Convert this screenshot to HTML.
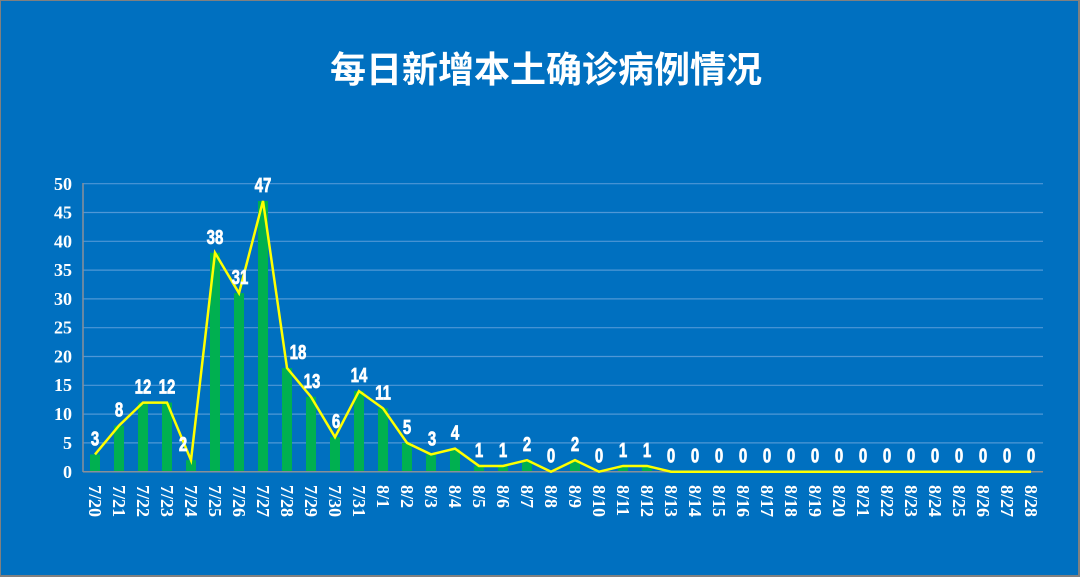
<!DOCTYPE html>
<html><head><meta charset="utf-8"><style>
html,body{margin:0;padding:0;width:1080px;height:577px;overflow:hidden;background:#0070C0}
svg{display:block}
.yl{font-family:"Liberation Serif",serif;font-weight:bold;font-size:18px;fill:#fff;text-anchor:end}
.xl{font-family:"Liberation Serif",serif;font-weight:bold;font-size:18px;fill:#fff}
.dl{font-family:"Liberation Sans",sans-serif;font-weight:bold;font-size:20px;fill:#fff;stroke:#fff;stroke-width:0.7px;text-anchor:middle}
</style></head><body>
<svg width="1080" height="577" viewBox="0 0 1080 577" xmlns="http://www.w3.org/2000/svg">
<rect x="0" y="0" width="1080" height="577" fill="#808080"/>
<rect x="1" y="1" width="1077" height="574" fill="#0070C0"/>
<text x="546" y="82" text-anchor="middle" font-family="'Liberation Sans','Noto Sans CJK SC',sans-serif" font-weight="bold" font-size="36" fill="#fff">每日新增本土确诊病例情况</text>
<g stroke="#4f97d6" stroke-width="1.2">
<line x1="83" x2="1043" y1="442.9" y2="442.9"/><line x1="83" x2="1043" y1="414.1" y2="414.1"/><line x1="83" x2="1043" y1="385.3" y2="385.3"/><line x1="83" x2="1043" y1="356.5" y2="356.5"/><line x1="83" x2="1043" y1="327.7" y2="327.7"/><line x1="83" x2="1043" y1="298.9" y2="298.9"/><line x1="83" x2="1043" y1="270.1" y2="270.1"/><line x1="83" x2="1043" y1="241.3" y2="241.3"/><line x1="83" x2="1043" y1="212.5" y2="212.5"/><line x1="83" x2="1043" y1="183.7" y2="183.7"/>
</g>
<g class="yl">
<text x="72" y="478">0</text><text x="72" y="449">5</text><text x="72" y="420">10</text><text x="72" y="391">15</text><text x="72" y="362.5">20</text><text x="72" y="333.5">25</text><text x="72" y="305">30</text><text x="72" y="276">35</text><text x="72" y="247.5">40</text><text x="72" y="218.5">45</text><text x="72" y="190">50</text>
</g>
<g fill="#00B050">
<rect x="90" y="454.42" width="10" height="17.28"/>
<rect x="114" y="425.62" width="10" height="46.08"/>
<rect x="138" y="402.58" width="10" height="69.12"/>
<rect x="162" y="402.58" width="10" height="69.12"/>
<rect x="186" y="460.18" width="10" height="11.52"/>
<rect x="210" y="252.82" width="10" height="218.88"/>
<rect x="234" y="293.14" width="10" height="178.56"/>
<rect x="258" y="200.98" width="10" height="270.72"/>
<rect x="282" y="368.02" width="10" height="103.68"/>
<rect x="306" y="396.82" width="10" height="74.88"/>
<rect x="330" y="437.14" width="10" height="34.56"/>
<rect x="354" y="391.06" width="10" height="80.64"/>
<rect x="378" y="408.34" width="10" height="63.36"/>
<rect x="402" y="442.9" width="10" height="28.8"/>
<rect x="426" y="454.42" width="10" height="17.28"/>
<rect x="450" y="448.66" width="10" height="23.04"/>
<rect x="474" y="465.94" width="10" height="5.76"/>
<rect x="498" y="465.94" width="10" height="5.76"/>
<rect x="522" y="460.18" width="10" height="11.52"/>
<rect x="570" y="460.18" width="10" height="11.52"/>
<rect x="618" y="465.94" width="10" height="5.76"/>
<rect x="642" y="465.94" width="10" height="5.76"/>
</g>
<line x1="83" y1="471.7" x2="1043" y2="471.7" stroke="#8a8f99" stroke-width="1.5"/>
<line x1="83" y1="183" x2="83" y2="472" stroke="#8a8f99" stroke-width="1.5"/>
<polyline fill="none" stroke="#FFFF00" stroke-width="2.5" stroke-linejoin="miter" points="95,454.42 119,425.62 143,402.58 167,402.58 191,460.18 215,252.82 239,293.14 263,200.98 287,368.02 311,396.82 335,437.14 359,391.06 383,408.34 407,442.9 431,454.42 455,448.66 479,465.94 503,465.94 527,460.18 551,471.7 575,460.18 599,471.7 623,465.94 647,465.94 671,471.7 695,471.7 719,471.7 743,471.7 767,471.7 791,471.7 815,471.7 839,471.7 863,471.7 887,471.7 911,471.7 935,471.7 959,471.7 983,471.7 1007,471.7 1031,471.7"/>
<g class="dl">
<text transform="translate(95,445.4) scale(0.75,1)">3</text>
<text transform="translate(119,416.6) scale(0.75,1)">8</text>
<text transform="translate(143,393.6) scale(0.75,1)">12</text>
<text transform="translate(167,393.6) scale(0.75,1)">12</text>
<text transform="translate(183,451.2) scale(0.75,1)">2</text>
<text transform="translate(215,243.8) scale(0.75,1)">38</text>
<text transform="translate(240,284.1) scale(0.75,1)">31</text>
<text transform="translate(263,192) scale(0.75,1)">47</text>
<text transform="translate(298,359) scale(0.75,1)">18</text>
<text transform="translate(312,387.8) scale(0.75,1)">13</text>
<text transform="translate(336,428.1) scale(0.75,1)">6</text>
<text transform="translate(359,382.1) scale(0.75,1)">14</text>
<text transform="translate(383,399.3) scale(0.75,1)">11</text>
<text transform="translate(407,433.9) scale(0.75,1)">5</text>
<text transform="translate(432,445.4) scale(0.75,1)">3</text>
<text transform="translate(455,439.7) scale(0.75,1)">4</text>
<text transform="translate(479,456.9) scale(0.75,1)">1</text>
<text transform="translate(503,456.9) scale(0.75,1)">1</text>
<text transform="translate(527,451.2) scale(0.75,1)">2</text>
<text transform="translate(551,462.7) scale(0.75,1)">0</text>
<text transform="translate(575,451.2) scale(0.75,1)">2</text>
<text transform="translate(599,462.7) scale(0.75,1)">0</text>
<text transform="translate(623,456.9) scale(0.75,1)">1</text>
<text transform="translate(647,456.9) scale(0.75,1)">1</text>
<text transform="translate(671,462.7) scale(0.75,1)">0</text>
<text transform="translate(695,462.7) scale(0.75,1)">0</text>
<text transform="translate(719,462.7) scale(0.75,1)">0</text>
<text transform="translate(743,462.7) scale(0.75,1)">0</text>
<text transform="translate(767,462.7) scale(0.75,1)">0</text>
<text transform="translate(791,462.7) scale(0.75,1)">0</text>
<text transform="translate(815,462.7) scale(0.75,1)">0</text>
<text transform="translate(839,462.7) scale(0.75,1)">0</text>
<text transform="translate(863,462.7) scale(0.75,1)">0</text>
<text transform="translate(887,462.7) scale(0.75,1)">0</text>
<text transform="translate(911,462.7) scale(0.75,1)">0</text>
<text transform="translate(935,462.7) scale(0.75,1)">0</text>
<text transform="translate(959,462.7) scale(0.75,1)">0</text>
<text transform="translate(983,462.7) scale(0.75,1)">0</text>
<text transform="translate(1007,462.7) scale(0.75,1)">0</text>
<text transform="translate(1031,462.7) scale(0.75,1)">0</text>
</g>
<g class="xl">
<text transform="translate(89,485) rotate(90)">7/20</text>
<text transform="translate(113,485) rotate(90)">7/21</text>
<text transform="translate(137,485) rotate(90)">7/22</text>
<text transform="translate(161,485) rotate(90)">7/23</text>
<text transform="translate(185,485) rotate(90)">7/24</text>
<text transform="translate(209,485) rotate(90)">7/25</text>
<text transform="translate(233,485) rotate(90)">7/26</text>
<text transform="translate(257,485) rotate(90)">7/27</text>
<text transform="translate(281,485) rotate(90)">7/28</text>
<text transform="translate(305,485) rotate(90)">7/29</text>
<text transform="translate(329,485) rotate(90)">7/30</text>
<text transform="translate(353,485) rotate(90)">7/31</text>
<text transform="translate(377,485) rotate(90)">8/1</text>
<text transform="translate(401,485) rotate(90)">8/2</text>
<text transform="translate(425,485) rotate(90)">8/3</text>
<text transform="translate(449,485) rotate(90)">8/4</text>
<text transform="translate(473,485) rotate(90)">8/5</text>
<text transform="translate(497,485) rotate(90)">8/6</text>
<text transform="translate(521,485) rotate(90)">8/7</text>
<text transform="translate(545,485) rotate(90)">8/8</text>
<text transform="translate(569,485) rotate(90)">8/9</text>
<text transform="translate(593,485) rotate(90)">8/10</text>
<text transform="translate(617,485) rotate(90)">8/11</text>
<text transform="translate(641,485) rotate(90)">8/12</text>
<text transform="translate(665,485) rotate(90)">8/13</text>
<text transform="translate(689,485) rotate(90)">8/14</text>
<text transform="translate(713,485) rotate(90)">8/15</text>
<text transform="translate(737,485) rotate(90)">8/16</text>
<text transform="translate(761,485) rotate(90)">8/17</text>
<text transform="translate(785,485) rotate(90)">8/18</text>
<text transform="translate(809,485) rotate(90)">8/19</text>
<text transform="translate(833,485) rotate(90)">8/20</text>
<text transform="translate(857,485) rotate(90)">8/21</text>
<text transform="translate(881,485) rotate(90)">8/22</text>
<text transform="translate(905,485) rotate(90)">8/23</text>
<text transform="translate(929,485) rotate(90)">8/24</text>
<text transform="translate(953,485) rotate(90)">8/25</text>
<text transform="translate(977,485) rotate(90)">8/26</text>
<text transform="translate(1001,485) rotate(90)">8/27</text>
<text transform="translate(1025,485) rotate(90)">8/28</text>
</g>
</svg>
</body></html>
